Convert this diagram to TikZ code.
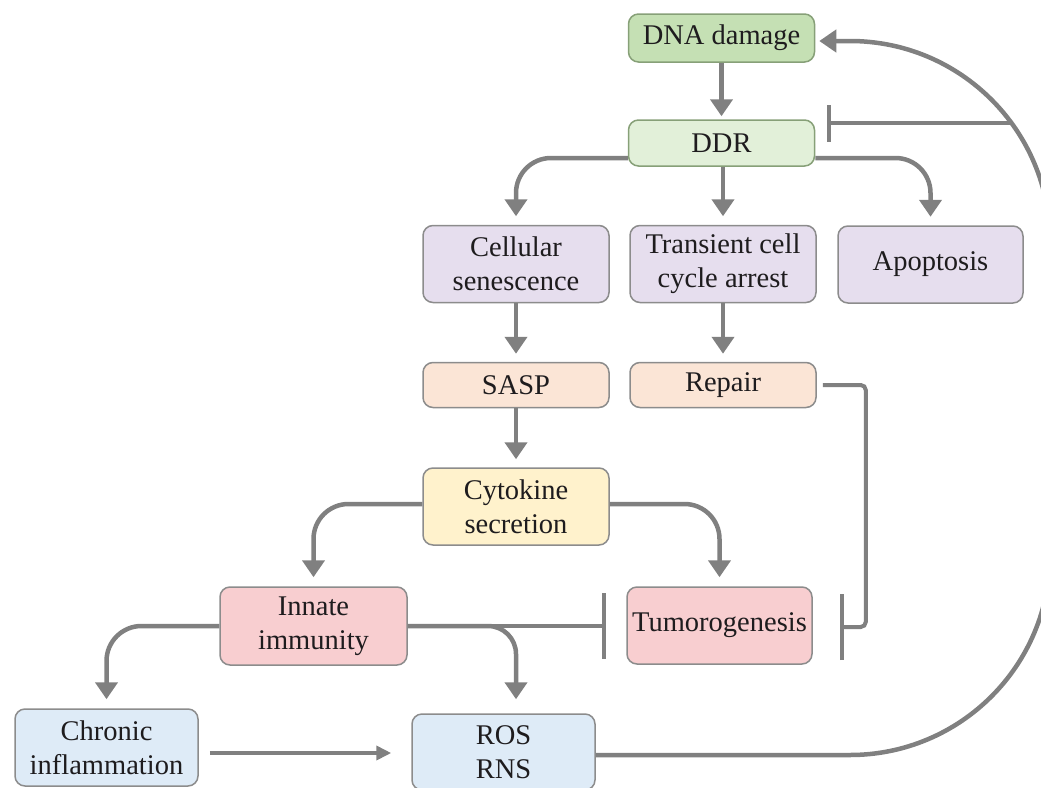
\documentclass[tikz,border=0pt]{standalone}
\usepackage{fontspec}
\setmainfont{Liberation Serif}
\usetikzlibrary{arrows.meta,calc}
\definecolor{lc}{RGB}{128,128,128}
\definecolor{bd}{RGB}{140,140,140}
\definecolor{bdG}{RGB}{135,160,120}
\definecolor{txt}{RGB}{30,28,30}
\definecolor{cDNA}{RGB}{197,224,180}
\definecolor{cDDR}{RGB}{226,240,217}
\definecolor{cPur}{RGB}{230,222,238}
\definecolor{cPea}{RGB}{251,229,214}
\definecolor{cYel}{RGB}{255,242,204}
\definecolor{cPin}{RGB}{248,206,208}
\definecolor{cBlu}{RGB}{222,235,247}
\begin{document}
\begin{tikzpicture}[x=1pt,y=-1pt,
  box/.style={draw=bd, line width=1.5pt, rounded corners=10pt, minimum width=186pt,
    inner sep=0pt, align=center, font=\fontsize{28.5}{34}\selectfont, text=txt},
  conn/.style={draw=lc, line width=4.5pt},
  arr/.style={conn, -{Triangle[width=22pt,length=17pt]}},
  inh/.style={draw=lc, line width=4pt}
]
\useasboundingbox (0,0) rectangle (1041,787);

\node[box, fill=cDNA, draw=bdG, minimum height=48pt] (dna) at (721.5,38) {DNA damage};
\node[box, fill=cDDR, draw=bdG, minimum height=46pt] (ddr) at (721.5,143) {DDR};
\node[box, fill=cPur, minimum height=77pt] (cell) at (516,264) {Cellular\\senescence};
\node[box, fill=cPur, minimum height=77pt] (trans) at (723,264) {Transient cell\\cycle arrest};
\node[box, fill=cPur, minimum height=77pt, minimum width=185pt] (apop) at (930.5,264.5) {Apoptosis};
\node[box, fill=cPea, minimum height=45pt] (sasp) at (516,385) {SASP};
\node[box, fill=cPea, minimum height=45pt] (repair) at (723,385) {Repair};
\node[box, fill=cYel, minimum height=77pt] (cyto) at (516,506.5) {Cytokine\\secretion};
\node[box, fill=cPin, minimum height=78pt, minimum width=187pt] (innate) at (313.5,626) {Innate\\immunity};
\node[box, fill=cPin, minimum height=77pt, minimum width=185pt] (tumor) at (719.5,625.5) {Tumorogenesis};
\node[box, fill=cBlu, minimum height=77pt, minimum width=183pt] (chronic) at (106.5,747.5) {Chronic\\inflammation};
\node[box, fill=cBlu, minimum height=76pt, minimum width=183pt] (ros) at (503.5,752) {ROS\\RNS};

\coordinate (fbR) at (1050,755);
\coordinate (fbT) at (1050,41);
\coordinate (fbj) at (1011,123);
\coordinate (ib) at ($(ddr.east)+(12,-20)$);
\coordinate (c1) at ($(chronic.east)+(0,5.5)$);
\coordinate (rj) at ($(tumor.east)+(27,1.5)$);

% DNA damage -> DDR
\draw[arr, shorten >=3pt] (dna) -- (ddr);
% DDR -> three outcomes
\draw[arr, rounded corners=35pt, shorten >=8.5pt] ($(ddr.west)+(0,15)$) -| (cell.north);
\draw[arr, shorten >=8.5pt] (ddr.south -| trans.north) -- (trans.north);
\draw[arr, rounded corners=35pt, shorten >=8.5pt] ($(ddr.east)+(0,15)$) -| (apop.north);
% second level
\draw[arr, shorten >=8pt] (cell) -- (sasp);
\draw[arr, shorten >=8pt] (trans) -- (repair);
\draw[arr, shorten >=8pt] (sasp) -- (cyto);
% cytokine secretion
\draw[arr, rounded corners=35pt, shorten >=9pt] ($(cyto.west)+(0,-2.5)$) -| (innate.north);
\draw[arr, rounded corners=35pt, shorten >=9pt] ($(cyto.east)+(0,-2.5)$) -| (tumor.north);
% innate immunity
\draw[inh, line width=4.5pt, -{Bar[width=66pt]}, shorten >=20pt] (innate.east) -- (innate.east -| tumor.west);
\draw[arr, rounded corners=28pt, shorten >=14pt] (innate.east) -| ($(ros.north)+(12.5,0)$);
\draw[arr, rounded corners=35pt, shorten >=9pt] (innate.west) -| (chronic.north);
% chronic inflammation -> ROS
\draw[conn, line width=4pt, -{Triangle[width=14pt,length=15pt]}, shorten <=11pt, shorten >=20pt] (c1) -- (c1 -| ros.west);
% repair -| tumorogenesis
\draw[inh, rounded corners=5pt, -{Bar[width=66pt]}, shorten <=6pt] (repair.east) -- ++(49,0) |- (rj);
% feedback ROS -> DNA damage
\draw[arr, rounded corners=200pt, shorten >=4pt] (ros.east |- fbR) -- (fbR) -- (fbT) -- (dna.east |- fbT);
\draw[inh, -{Bar[width=37pt]}] (fbj) -- (ib);
\end{tikzpicture}
\end{document}
